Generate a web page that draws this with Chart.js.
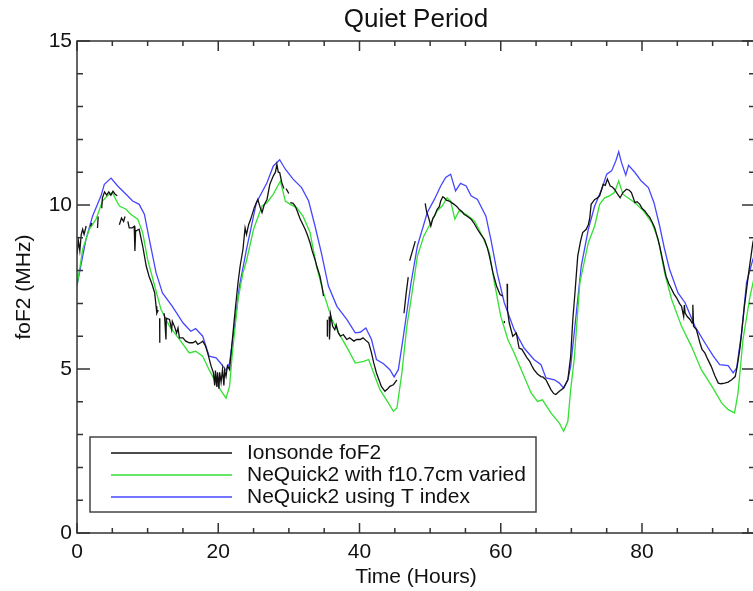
<!DOCTYPE html>
<html lang="en">
<head>
<meta charset="UTF-8">
<title>Quiet Period</title>
<script src="https://cdn.jsdelivr.net/npm/chart.js"></script>
<style>
    html, body { margin: 0; padding: 0; background: #fff; overflow: hidden; }
</style>
</head>
<body>
<canvas id="chart" width="760" height="591"></canvas>
<script>
// Ionosonde foF2 (null = data gap)
const ionoHours = [0, 0.2, 0.4, 0.6, 0.8, 1.0, 1.3, null,
    1.9, 2.1, null, 2.9, 3.0, null,
    3.5, 3.6, 3.9, 4.2, 4.5, 4.8, 5.1, 5.4, 5.7, null,
    6.0, 6.3, 6.6, 6.8, null,
    7.2, 7.4, 7.8, 8.1, 8.2, 8.3, 8.8, 9.3, 9.8, 10.2, 10.6, 11.0, 11.2, 11.3, 11.5, null,
    11.7, 11.72, null,
    12.3, 12.4, 12.6, 12.65, 13.1, 13.4, 13.5, 13.8, 14.1, 14.3, 14.5, 15.0, 15.4, 15.9, 16.4, 16.8, 17.1, 17.5, 17.8,
    18.2, 18.5, 19.0, 19.3, 19.5, 19.6, 19.8, 19.9, 20.1, 20.2, 20.4, 20.6, 20.8, 20.9, 21.1, 21.3, 21.6, 22.0, 22.4,
    22.8, 23.1, 23.5, 23.8, 24.0, 24.3, 24.6, 25.1, 25.6, 25.9, 26.2, 26.5, 26.9, 27.3, 27.8, 28.1, 28.3, 28.5, 28.7,
    29.0, 29.3, null, 29.6, 30.0, null,
    30.2, 30.6, 30.9, 31.3, 31.6, 32.0, 32.3, 32.6, 33.0, 33.3, 33.7, 34.0, 34.4, 34.7, 34.9, null,
    35.4, 35.45, null,
    35.7, 35.75, 35.9, 36.2, 36.5, 36.7, 37.0, 37.3, 37.7, 38.2, 38.6, 39.2, 39.6, 40.1, 40.5, 41.0, 41.3, 41.7, 42.0,
    42.4, 42.7, 43.1, 43.6, 44.0, 44.3, 44.8, 45.3, null,
    46.3, 46.6, 46.9, null, 47.1, 47.5, 47.9, null,
    49.3, 49.5, 49.8, 50.1, 50.4, 50.6, 51.0, 51.3, 51.5, 51.8, 52.0, 52.3, 52.7, 53.0, 53.4, 53.8, 54.1, 54.5, 54.8,
    55.3, 55.8, 56.2, 56.7, 57.2, 57.7, 58.1, 58.4, 58.9, 59.4, 59.9, 60.3, null,
    60.5, 60.52, null,
    60.9, 60.95, 61.2, 61.7, 62.2, 62.6, 63.0, 63.3, 63.7, 64.1, 64.4, 64.7, 65.2, 65.7, 66.0, 66.4, 66.8, 67.1, 67.5,
    67.8, 68.3, 68.9, 69.5, 69.9, 70.2, 70.5, 70.9, 71.3, 71.6, 72.1, 72.4, 72.6, 72.8, 73.3, 73.6, 74.0, 74.5, 74.8,
    75.1, 75.5, 75.8, 76.1, 76.5, 76.9, 77.3, 77.8, 78.2, 78.5, 79.0, 79.3, 79.7, 80.0, 80.4, 80.8, 81.1, 81.5, 81.8,
    82.2, 82.5, 83.0, 83.4, 83.8, 84.2, 84.5, 84.9, 85.3, 85.6, 85.9, 86.0, 86.1, 86.4, 86.8, 87.1, 87.2, 87.3, 87.7,
    88.2, 88.5, 88.9, 89.3, 89.8, 90.3, 90.8, 91.2, 91.7, 92.2, 92.7, 93.2, 93.5, 93.9, 94.2, 94.5, 95.1, 95.7, 96];
const ionoFoF2 = [8.5, 8.9, 8.6, 9.1, 9.26, 9.1, 9.36, null,
    9.35, 9.45, null, 9.3, 9.65, null,
    9.9, 10.22, 10.4, 10.3, 10.4, 10.3, 10.42, 10.33, 10.28, null,
    9.4, 9.6, 9.5, 9.65, null,
    9.5, 9.3, 9.3, 9.35, 8.6, 9.2, 9.26, 8.75, 8.14, 7.83, 7.6, 7.32, 6.91, 6.7, 6.8, null,
    6.55, 5.8, null,
    6.7, 6.61, 5.9, 6.55, 6.51, 6.2, 6.45, 6.3, 6.1, 6.25, 5.95, 5.95, 5.85, 5.8, 5.8, 5.85, 5.75, 5.8, 5.85,
    5.7, 5.49, 5.08, 4.9, 4.5, 4.95, 4.45, 4.9, 4.4, 4.9, 4.6, 4.98, 4.5, 4.95, 4.77, 5.1, 4.98, 5.9, 6.8,
    7.63, 8.14, 8.65, 9.3, 9.1, 9.4, 9.57, 9.92, 10.17, 9.95, 9.77, 10.0, 10.17, 10.63, 10.89, 11.0, 11.24, 11.0, 10.99,
    10.68, 10.5, null, 10.5, 10.35, null,
    10.07, 10.05, 9.97, 9.75, 9.57, 9.4, 9.26, 9.1, 8.85, 8.6, 8.34, 8.1, 7.83, 7.5, 7.22, null,
    6.0, 6.5, null,
    6.6, 5.9, 6.66, 6.3, 6.2, 6.35, 6.1, 6.0, 6.05, 5.9, 5.95, 5.85, 5.9, 5.9, 5.95, 5.85, 5.8, 5.49, 5.2,
    4.88, 4.7, 4.47, 4.32, 4.4, 4.47, 4.52, 4.67, null,
    6.7, 7.3, 7.8, null, 8.3, 8.6, 8.9, null,
    10.05, 9.8, 9.6, 9.36, 9.6, 9.66, 9.87, 9.95, 10.12, 10.25, 10.22, 10.15, 10.12, 10.08, 10.02, 9.95, 9.87, 9.8, 9.72,
    9.65, 9.57, 9.45, 9.26, 9.1, 8.95, 8.7, 8.44, 7.93, 7.53, 7.27, 7.22, null,
    6.46, 6.4, null,
    7.6, 6.8, 6.41, 6.0, 6.1, 5.64, 5.6, 5.49, 5.35, 5.23, 5.1, 4.98, 4.85, 4.77, 4.75, 4.67, 4.5, 4.37, 4.25,
    4.22, 4.32, 4.42, 4.67, 5.39, 6.5, 7.3, 8.44, 8.9, 9.16, 9.26, 9.4, 9.6, 10.02, 10.17, 10.2, 10.28, 10.63, 10.6,
    10.79, 10.58, 10.55, 10.48, 10.35, 10.22, 10.38, 10.48, 10.45, 10.38, 10.07, 10.1, 10.02, 9.9, 9.82, 9.7, 9.62, 9.45, 9.31,
    9.0, 8.75, 8.24, 7.83, 7.6, 7.43, 7.3, 7.17, 7.0, 6.91, 6.6, 6.95, 6.71, 6.6, 6.51, 6.4, 6.96, 6.3, 6.2,
    5.8, 5.6, 5.49, 5.3, 5.08, 4.8, 4.57, 4.55, 4.57, 4.6, 4.67, 4.77, 5.1, 5.69, 6.3, 6.91, 7.93, 8.85, 9.1];

// NeQuick2 with f10.7cm varied
const f107Hours = [0, 0.8, 1.75, 2.7, 3.6, 4.3, 5.0, 5.5, 6.0, 6.94, 7.6, 8.6, 9.3, 10.0, 11.0, 11.9, 13.1, 14.5,
    15.9, 16.8, 17.8, 18.7, 19.7, 20.6, 21.1, 21.6, 22.0, 22.8, 23.5, 24.0, 25.0, 26.2, 26.9, 27.8, 28.8, 29.5,
    30.2, 31.1, 32.0, 33.0, 33.9, 34.9, 36.1, 37.3, 38.4, 39.4, 40.6, 41.3, 42.0, 42.9, 44.1, 44.8, 45.3, 46.0,
    46.7, 47.3, 48.2, 49.1, 50.1, 51.0, 51.7, 52.4, 52.9, 53.5, 54.1, 55.1, 56.3, 57.4, 58.4, 59.1, 60.0, 61.0,
    61.9, 63.1, 64.3, 65.2, 65.9, 67.1, 68.3, 68.9, 69.5, 69.9, 70.4, 71.2, 72.4, 73.3, 74.0, 74.7, 75.4, 76.1,
    76.7, 77.3, 78.0, 79.0, 80.2, 81.4, 82.3, 83.2, 84.2, 85.6, 87.0, 88.4, 89.9, 91.3, 92.2, 93.1, 93.6, 94.3,
    95.3, 96];
const f107FoF2 = [7.53, 8.65, 9.26, 9.57, 10.12, 10.28, 10.38, 10.17, 9.97, 9.87, 9.72, 9.57, 9.16, 8.34, 7.53, 6.81, 6.3, 5.9,
    5.49, 5.54, 5.39, 4.98, 4.57, 4.27, 4.11, 4.47, 5.49, 7.12, 7.93, 8.3, 9.26, 9.97, 10.07, 10.33, 10.73, 10.12,
    10.02, 9.92, 9.66, 9.16, 8.14, 7.32, 6.51, 6.0, 5.59, 5.18, 5.23, 5.29, 4.88, 4.37, 3.96, 3.71, 3.81, 4.88,
    6.3, 7.12, 8.44, 9.05, 9.46, 9.82, 9.97, 10.22, 10.12, 9.57, 9.82, 9.72, 9.51, 9.05, 8.54, 7.63, 6.61, 5.9,
    5.49, 4.88, 4.27, 4.01, 4.06, 3.66, 3.35, 3.1, 3.4, 4.37, 5.29, 7.63, 8.85, 9.36, 10.02, 10.22, 10.28, 10.38,
    10.73, 10.33, 10.22, 10.07, 9.82, 9.46, 8.95, 7.93, 7.12, 6.3, 5.69, 4.98, 4.47, 3.96, 3.76, 3.66, 4.27, 5.9,
    7.22, 7.9];

// NeQuick2 using T index
const tIndexHours = [0, 1.27, 2.2, 3.4, 3.87, 4.82, 5.76, 6.94, 7.88, 8.8, 9.54, 10.24, 11.2, 12.1, 13.5, 15.0,
    16.1, 16.8, 17.8, 18.7, 19.7, 20.4, 21.1, 21.6, 22.3, 23.0, 24.0, 25.4, 26.9, 27.8, 28.7, 29.5, 30.6, 31.8,
    32.8, 33.7, 34.6, 35.6, 36.8, 38.2, 39.4, 40.1, 40.9, 41.7, 42.4, 43.4, 44.3, 44.9, 45.5, 46.2, 47.3, 48.2,
    49.6, 50.6, 51.5, 52.2, 52.9, 53.6, 54.3, 55.1, 55.8, 56.7, 57.9, 58.6, 59.5, 60.5, 61.9, 63.3, 64.7, 65.7,
    66.4, 67.6, 68.3, 68.9, 69.5, 69.9, 70.5, 71.4, 72.4, 73.3, 74.3, 75.0, 75.7, 76.3, 76.7, 77.1, 77.7, 78.1,
    79.0, 79.9, 80.9, 81.7, 82.5, 83.2, 83.9, 85.1, 86.1, 87.5, 88.9, 90.1, 91.0, 92.2, 92.9, 93.4, 94.1, 94.8,
    95.7, 96];
const tIndexFoF2 = [7.55, 8.95, 9.66, 10.28, 10.63, 10.82, 10.58, 10.33, 10.12, 10.02, 9.72, 8.95, 7.93, 7.32, 6.91, 6.41,
    6.15, 6.23, 6.0, 5.39, 5.34, 5.16, 4.96, 5.18, 6.3, 7.53, 8.65, 10.07, 10.68, 11.19, 11.38, 11.09, 10.79, 10.53,
    10.12, 9.36, 8.54, 7.53, 6.91, 6.51, 6.1, 6.12, 6.25, 5.9, 5.29, 5.16, 4.98, 4.76, 4.98, 5.98, 7.63, 8.75,
    9.77, 10.17, 10.58, 10.84, 10.94, 10.43, 10.66, 10.58, 10.28, 10.17, 9.66, 8.95, 7.93, 7.02, 6.2, 5.64, 5.29, 5.13,
    4.73, 4.67, 4.57, 4.42, 4.67, 5.08, 6.3, 8.14, 9.26, 9.97, 10.48, 10.94, 11.04, 11.35, 11.62, 11.29, 10.91, 11.21,
    10.99, 10.73, 10.53, 10.07, 9.36, 8.65, 8.04, 7.32, 7.02, 6.3, 5.8, 5.39, 5.13, 5.1, 4.88, 5.03, 6.1, 7.63,
    8.34, 8.5];

const seriesLabels = ['Ionsonde foF2', 'NeQuick2 with f10.7cm varied', 'NeQuick2 using T index'];
const xMax = 96, xMajor = 20, xMinor = 5;
const yMax = 15, yMajor = 5, yMinor = 1;

function points(hours, values) {
    return hours.map((h, i) => ({ x: h === null ? NaN : h, y: values[i] }));
}

Chart.defaults.font.family = '"Liberation Sans", Arial, sans-serif';
Chart.defaults.color = '#111';

// IDL-style frame with inward ticks, title and boxed legend
const framePlugin = {
    id: 'frame',
    afterDatasetsDraw(chart) {
        const { ctx, chartArea: a, scales: { x, y } } = chart;
        ctx.save();
        ctx.strokeStyle = '#333';
        ctx.lineWidth = 1.5;
        ctx.strokeRect(a.left, a.top, a.right - a.left, a.bottom - a.top);
        ctx.beginPath();
        for (let v = 0; v <= xMax; v += xMinor) {
            const px = x.getPixelForValue(v);
            const len = v % xMajor === 0 ? 10 : 5;
            ctx.moveTo(px, a.bottom); ctx.lineTo(px, a.bottom - len);
            ctx.moveTo(px, a.top); ctx.lineTo(px, a.top + len);
        }
        for (let v = 0; v <= yMax; v += yMinor) {
            const py = y.getPixelForValue(v);
            const len = v % yMajor === 0 ? 13 : 6;
            ctx.moveTo(a.left, py); ctx.lineTo(a.left + len, py);
            ctx.moveTo(a.right, py); ctx.lineTo(a.right - len, py);
        }
        ctx.stroke();

        // title
        ctx.fillStyle = '#111';
        ctx.font = '26px "Liberation Sans", Arial, sans-serif';
        ctx.textAlign = 'center';
        ctx.textBaseline = 'middle';
        ctx.fillText('Quiet Period', (a.left + a.right) / 2, 20);

        // legend
        const lx = 90, ly = 437, lw = 446, lh = 75;
        ctx.fillStyle = '#fff';
        ctx.fillRect(lx, ly, lw, lh);
        ctx.strokeStyle = '#444';
        ctx.lineWidth = 1.5;
        ctx.strokeRect(lx, ly, lw, lh);
        ctx.font = '21px "Liberation Sans", Arial, sans-serif';
        ctx.textAlign = 'left';
        chart.data.datasets.forEach((ds, i) => {
            const ry = 453 + i * 22;
            ctx.strokeStyle = ds.borderColor;
            ctx.lineWidth = 1.3;
            ctx.beginPath();
            ctx.moveTo(111, ry); ctx.lineTo(232, ry);
            ctx.stroke();
            ctx.fillStyle = '#111';
            ctx.fillText(ds.label, 247, ry);
        });
        ctx.restore();
    }
};

new Chart(document.getElementById('chart'), {
    type: 'line',
    data: {
        datasets: [
            { label: seriesLabels[0], data: points(ionoHours, ionoFoF2), borderColor: '#111', borderWidth: 1.3 },
            { label: seriesLabels[1], data: points(f107Hours, f107FoF2), borderColor: '#33e033', borderWidth: 1.3 },
            { label: seriesLabels[2], data: points(tIndexHours, tIndexFoF2), borderColor: '#4646ff', borderWidth: 1.3 }
        ]
    },
    options: {
        responsive: false,
        animation: false,
        parsing: false,
        layout: { padding: { top: 41, right: 5, left: 0, bottom: 0 } },
        elements: { point: { radius: 0 }, line: { tension: 0, fill: false } },
        plugins: { legend: { display: false }, tooltip: { enabled: false }, title: { display: false } },
        scales: {
            x: {
                type: 'linear', min: 0, max: xMax,
                grid: { display: false, drawTicks: false },
                border: { display: false },
                ticks: { stepSize: xMajor, includeBounds: false, padding: 7, font: { size: 21 }, maxRotation: 0 },
                title: { display: true, text: 'Time (Hours)', font: { size: 21 }, padding: { top: 0, bottom: 1 } },
                afterFit: (s) => { s.height = 58; }
            },
            y: {
                type: 'linear', min: 0, max: yMax,
                grid: { display: false, drawTicks: false },
                border: { display: false },
                ticks: { stepSize: yMajor, padding: 5, font: { size: 21 } },
                title: { display: true, text: 'foF2 (MHz)', font: { size: 21 }, padding: { top: 12, bottom: 0 } },
                afterFit: (s) => { s.width = 77; }
            }
        }
    },
    plugins: [framePlugin]
});
</script>
</body>
</html>
